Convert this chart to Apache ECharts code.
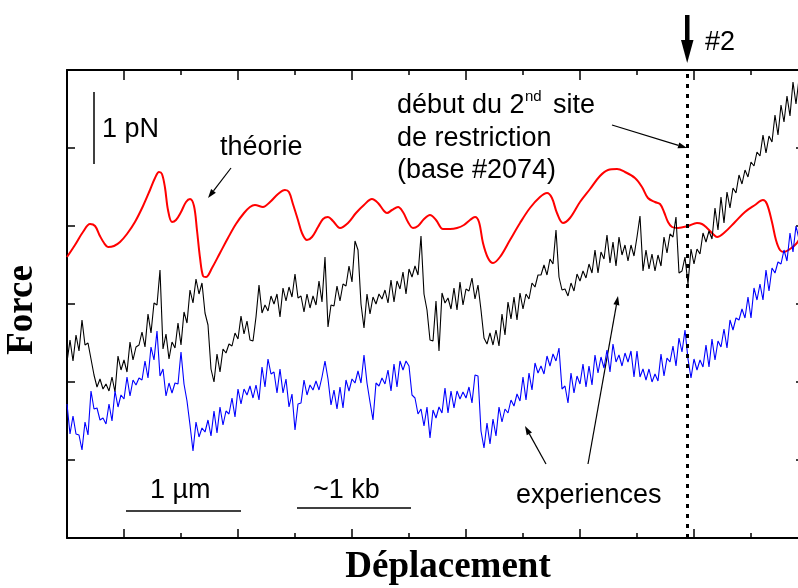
<!DOCTYPE html>
<html><head><meta charset="utf-8">
<script src="https://cdn.jsdelivr.net/npm/echarts@6/dist/echarts.min.js"></script>
<style>html,body{margin:0;padding:0;background:#fff}#c{width:798px;height:588px}</style>
</head><body><div id="c"></div>
<script>
// Displacement in µm (1 µm scale bar), force in arbitrary units
const theoryX = [-0.5,-0.43,-0.36,-0.298,-0.254,-0.211,-0.175,-0.14,-0.088,-0.035,
0.026,0.096,0.167,0.228,0.272,0.307,0.333,0.36,0.386,0.421,
0.456,0.5,0.544,0.579,0.614,0.64,0.667,0.693,0.719,0.772,
0.842,0.912,0.982,1.053,1.105,1.149,1.219,1.281,1.351,1.412,
1.447,1.482,1.526,1.561,1.605,1.649,1.702,1.746,1.789,1.833,
1.895,1.965,2.035,2.105,2.175,2.228,2.281,2.307,2.351,2.404,
2.447,2.491,2.535,2.579,2.632,2.684,2.737,2.798,2.86,2.921,
2.982,3.035,3.079,3.114,3.149,3.193,3.237,3.298,3.386,3.474,
3.561,3.649,3.711,3.754,3.798,3.851,3.912,4.0,4.088,4.175,
4.246,4.325,4.395,4.482,4.544,4.596,4.658,4.702,4.737,4.772,
4.807,4.86,4.947,5.026,5.07,5.114,5.167,5.202,5.272,5.36,
5.447,5.535,5.605,5.64,5.684,5.719,5.754,5.789,5.842,5.895,
5.93];
const theoryY = [281,293,306,314,312,302,295,291,292,296,
304,316,332,348,360,366,364,350,328,316,
318,326,336,339,332,308,280,262,261,270,
285,300,314,325,331,333,331,336,344,348,
346,334,318,305,298,301,311,319,321,317,
310,315,325,333,339,335,327,325,328,331,
326,316,310,312,319,323,318,309,309,310,
313,318,321,316,295,280,275,281,298,315,
330,341,345,340,325,315,320,336,349,362,
368,369,366,360,351,340,336,334,326,316,
311,310,312,315,314,310,304,301,306,316,
326,333,338,334,316,298,288,286,289,294,
300];
// experimental traces, sampled on a regular displacement grid
const TRACE_X0 = -0.5;
const TRACE_DX = 3/114;
const expBlack = [176,198,177,203,187,218,193,195,179,163,
151,159,149,154,147,161,146,182,168,178,
166,196,178,191,193,206,191,224,205,235,
233,268,189,204,179,196,190,215,193,226,
215,248,235,259,244,255,225,213,169,156,
184,166,189,185,194,192,205,199,222,204,
217,198,197,221,253,225,233,227,242,234,
244,221,250,237,251,241,264,240,242,226,
244,230,242,233,257,236,281,211,233,232,
252,237,254,252,272,256,297,288,234,210,
244,224,241,234,244,239,248,235,258,236,
257,249,266,244,269,261,272,263,302,244,
228,198,197,237,187,245,235,240,229,250,
228,256,233,249,247,260,239,253,228,200,
194,205,193,208,192,224,203,236,219,241,
218,245,229,244,239,255,251,263,263,273,
263,279,274,308,261,248,249,242,255,247,
264,257,267,260,274,265,288,265,286,279,
303,275,296,272,301,283,293,277,293,282,
301,322,267,288,269,284,267,283,272,301,
285,304,301,321,265,267,281,254,289,274,
289,284,305,296,307,299,330,308,341,315,
346,330,350,345,363,354,368,361,376,372,
386,382,403,385,402,396,423,403,433,416,
442,422,456,434,459];
const expBlue = [134,104,122,104,103,88,116,103,147,129,
130,118,120,114,134,117,147,131,143,139,
161,142,158,153,160,158,177,160,191,178,
207,162,169,142,155,145,155,154,186,154,
137,113,87,116,101,110,106,118,102,127,
105,131,113,127,124,140,121,149,134,149,
143,152,140,153,138,171,151,179,164,166,
145,169,145,159,131,144,108,134,135,158,
143,153,148,157,148,161,177,159,133,148,
129,151,130,158,147,159,155,167,155,183,
155,136,118,155,152,160,154,168,147,174,
151,177,168,177,172,143,140,124,129,112,
131,100,128,120,131,125,150,125,147,130,
147,139,146,140,151,135,163,162,107,90,
115,94,119,102,131,116,129,125,138,132,
144,137,161,138,165,148,175,165,172,164,
182,172,184,177,190,149,152,135,165,145,
162,154,174,151,172,153,183,165,181,170,
188,166,194,176,183,172,185,176,187,161,
187,161,169,158,169,156,164,157,184,162,
180,176,192,172,200,186,208,179,160,179,
168,178,171,193,171,199,178,197,191,209,
190,218,208,220,218,229,220,241,220,250,
238,254,238,268,247,270,265,276,274,288,
277,305,286,312,299];
const majorTicks = [0,1,2,3,4,5];
const minorTicks = [0.5,1.5,2.5,3.5,4.5,5.5];
const siteX = 4.939; // base #2074
const X_MIN = -0.5, X_MAX = 5.965, Y_MIN = 0, Y_MAX = 468, Y_INT = 78;

const chart = echarts.init(document.getElementById('c'), null, {renderer:'canvas'});
const SANS = '"Liberation Sans", Arial, Helvetica, sans-serif';
const SERIF = '"Liberation Serif", "Times New Roman", serif';

function xAx(pos, ticks, len, showLine){
  return {type:'value', position:pos, min:X_MIN, max:X_MAX,
    axisLine:{show:showLine, onZero:false, lineStyle:{color:'#000', width:2}},
    axisTick:{show:true, inside:true, length:len, customValues:ticks, lineStyle:{color:'#000', width:1.5}},
    axisLabel:{show:false}, splitLine:{show:false}};
}
function yAx(pos){
  return {type:'value', position:pos, min:Y_MIN, max:Y_MAX, interval:Y_INT,
    axisLine:{show:true, onZero:false, lineStyle:{color:'#000', width:2}},
    axisTick:{show:true, inside:true, length:8, lineStyle:{color:'#000', width:1.5}},
    axisLabel:{show:false}, splitLine:{show:false}};
}
function txt(str, x, baseline, size, extra){
  const s = Object.assign({text:str, x:x, y:baseline - 0.35*size, fill:'#000',
    font: size + 'px ' + SANS, verticalAlign:'middle', align:'left'}, extra||{});
  return {type:'text', silent:true, style:s};
}
function arrow(x1,y1,x2,y2){
  const dx=x2-x1, dy=y2-y1, L=Math.hypot(dx,dy), ux=dx/L, uy=dy/L;
  const hl=9, hw=3;
  const bx=x2-ux*hl, by=y2-uy*hl;
  return [
    {type:'line', silent:true, shape:{x1:x1,y1:y1,x2:bx,y2:by}, style:{stroke:'#000', lineWidth:1.2}},
    {type:'polygon', silent:true, shape:{points:[[x2,y2],[bx-uy*hw,by+ux*hw],[bx+uy*hw,by-ux*hw]]}, style:{fill:'#000'}}
  ];
}

const graphics = [].concat(
  [{type:'line', silent:true, shape:{x1:94,y1:92,x2:94,y2:164}, style:{stroke:'#000', lineWidth:1.5}}],
  [txt('1 pN', 102, 139, 27)],
  [txt('théorie', 220, 157, 27)],
  arrow(231,168,208,198),
  [txt('début du 2', 397, 115, 27), txt('nd', 525, 102, 15), txt('site', 553, 115, 27)],
  [txt('de restriction', 397, 148, 27), txt('(base #2074)', 397, 180, 27)],
  arrow(612,125,687,148),
  [{type:'rect', silent:true, shape:{x:685, y:15, width:4.5, height:30}, style:{fill:'#000'}},
   {type:'polygon', silent:true, shape:{points:[[681,40],[693.5,40],[687.2,63]]}, style:{fill:'#000'}}],
  [txt('#2', 705, 52, 27)],
  [txt('1 µm', 150, 500, 27),
   {type:'line', silent:true, shape:{x1:126,y1:511,x2:241,y2:511}, style:{stroke:'#000', lineWidth:1.5}}],
  [txt('~1 kb', 313, 500, 27),
   {type:'line', silent:true, shape:{x1:297,y1:508,x2:411,y2:508}, style:{stroke:'#000', lineWidth:1.5}}],
  [txt('experiences', 516, 505, 27)],
  arrow(546,464,525,426),
  arrow(588,464,618,296),
  [{type:'text', silent:true, x:22, y:310, rotation:Math.PI/2,
     style:{text:'Force', font:'bold 37px ' + SERIF, fill:'#000', align:'center', verticalAlign:'middle'}},
   {type:'text', silent:true,
     style:{text:'Déplacement', x:448, y:580 - 0.34*37, font:'bold 37px ' + SERIF, fill:'#000', align:'center', verticalAlign:'middle'}}]
);

chart.setOption({
  animation:false,
  backgroundColor:'#fff',
  grid:{left:67, top:70, width:737, height:468, containLabel:false, outerBoundsMode:'none'},
  xAxis:[xAx('bottom', majorTicks, 9, true), xAx('bottom', minorTicks, 5, false),
         xAx('top', majorTicks, 10, true), xAx('top', minorTicks, 5, false)],
  yAxis:[yAx('left'), yAx('right')],
  series:[
    {type:'line', name:'théorie', xAxisIndex:0, yAxisIndex:0, showSymbol:false, smooth:0.35,
     data: theoryX.map((x,i)=>[x, theoryY[i]]), lineStyle:{color:'#ff0000', width:2}, z:2},
    {type:'line', name:'exp1', xAxisIndex:0, yAxisIndex:0, showSymbol:false,
     data: expBlack.map((v,i)=>[TRACE_X0 + i*TRACE_DX, v]), lineStyle:{color:'#000', width:1.1}, z:3,
     markLine:{silent:true, symbol:['none','none'], label:{show:false}, animation:false,
       lineStyle:{color:'#000', type:[4,6], width:3}, data:[{xAxis: siteX}]}},
    {type:'line', name:'exp2', xAxisIndex:0, yAxisIndex:0, showSymbol:false,
     data: expBlue.map((v,i)=>[TRACE_X0 + i*TRACE_DX, v]), lineStyle:{color:'#0000ff', width:1.1}, z:4}
  ],
  graphic: graphics
});
</script></body></html>
